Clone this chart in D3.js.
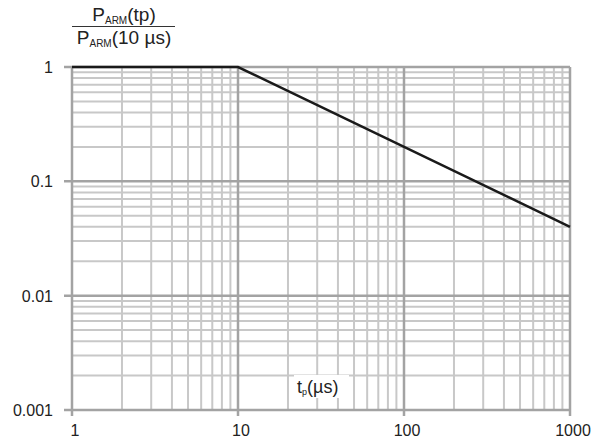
<!DOCTYPE html>
<html><head><meta charset="utf-8">
<script src="https://cdn.jsdelivr.net/npm/d3@7"></script>
<style>body{margin:0;background:#fff}svg{display:block}text{font-family:"Liberation Sans",Arial,sans-serif}</style>
</head><body>
<script>
const xTicks = [1, 10, 100, 1000];
const yTicks = [0.001, 0.01, 0.1, 1];
const xTickLabels = ["1", "10", "100", "1000"];
const yTickLabels = ["0.001", "0.01", "0.1", "1"];
const curveX = [1, 10, 1000];
const curveY = [1, 1, 0.04];

const W = 609, H = 441;
const svg = d3.select("body").append("svg").attr("width", W).attr("height", H);
const x = d3.scaleLog().domain([1, 1000]).range([72, 570]);
const y = d3.scaleLog().domain([0.001, 1]).range([410, 67]);

function minors(lo, hi) {
  const out = [];
  for (let d = lo; d < hi; d *= 10) for (let k = 2; k <= 9; k++) out.push(d * k);
  return out;
}
const g = svg.append("g");
const minorC = "#c8c8c8", majorC = "#a3a3a3";
g.selectAll(".vx").data(minors(1, 1000)).join("line")
  .attr("x1", d => x(d)).attr("x2", d => x(d)).attr("y1", y(1)).attr("y2", y(0.001))
  .attr("stroke", minorC).attr("stroke-width", 2);
g.selectAll(".hy").data(minors(0.001, 1)).join("line")
  .attr("y1", d => y(d)).attr("y2", d => y(d)).attr("x1", x(1)).attr("x2", x(1000))
  .attr("stroke", minorC).attr("stroke-width", 2);
g.selectAll(".vX").data(xTicks).join("line")
  .attr("x1", d => x(d)).attr("x2", d => x(d)).attr("y1", y(1)).attr("y2", y(0.001) + 6)
  .attr("stroke", majorC).attr("stroke-width", 2.5);
g.selectAll(".hY").data(yTicks).join("line")
  .attr("y1", d => y(d)).attr("y2", d => y(d)).attr("x1", x(1) - 8).attr("x2", x(1000))
  .attr("stroke", majorC).attr("stroke-width", 2.5);

// tick labels
svg.selectAll(".xl").data(xTicks).join("text")
  .attr("x", d => x(d) + 3).attr("y", 436).attr("text-anchor", "middle")
  .attr("font-size", 16).attr("fill", "#222").text((d, i) => xTickLabels[i]);
svg.selectAll(".yl").data(yTicks).join("text")
  .attr("x", 53).attr("y", d => y(d) + 6).attr("text-anchor", "end")
  .attr("font-size", 16).attr("fill", "#222").text((d, i) => yTickLabels[i]);

// x axis title with white background
svg.append("rect").attr("x", 294).attr("y", 375).attr("width", 55).attr("height", 23).attr("fill", "#fff");
const xt = svg.append("text").attr("x", 297).attr("y", 393).attr("font-size", 18).attr("fill", "#222");
xt.append("tspan").text("t");
xt.append("tspan").attr("font-size", 9).attr("dy", 2).text("p");
xt.append("tspan").attr("dy", -2).text("(µs)");

// y axis title fraction
const cx = 124;
const num = svg.append("text").attr("x", cx).attr("y", 21).attr("text-anchor", "middle").attr("font-size", 19).attr("fill", "#222");
num.append("tspan").text("P");
num.append("tspan").attr("font-size", 10).attr("dy", 3).text("ARM");
num.append("tspan").attr("dy", -3).text("(tp)");
svg.append("line").attr("x1", 72).attr("x2", 175).attr("y1", 26.5).attr("y2", 26.5).attr("stroke", "#333").attr("stroke-width", 1);
const den = svg.append("text").attr("x", cx).attr("y", 44).attr("text-anchor", "middle").attr("font-size", 19).attr("fill", "#222");
den.append("tspan").text("P");
den.append("tspan").attr("font-size", 10).attr("dy", 3).text("ARM");
den.append("tspan").attr("dy", -3).text("(10 µs)");

// curve
const pts = curveX.map((v, i) => [v, curveY[i]]);
svg.append("path").datum(pts)
  .attr("d", d3.line().x(d => x(d[0])).y(d => y(d[1])))
  .attr("fill", "none").attr("stroke", "#1a1a1a").attr("stroke-width", 2.5);
</script>
</body></html>
